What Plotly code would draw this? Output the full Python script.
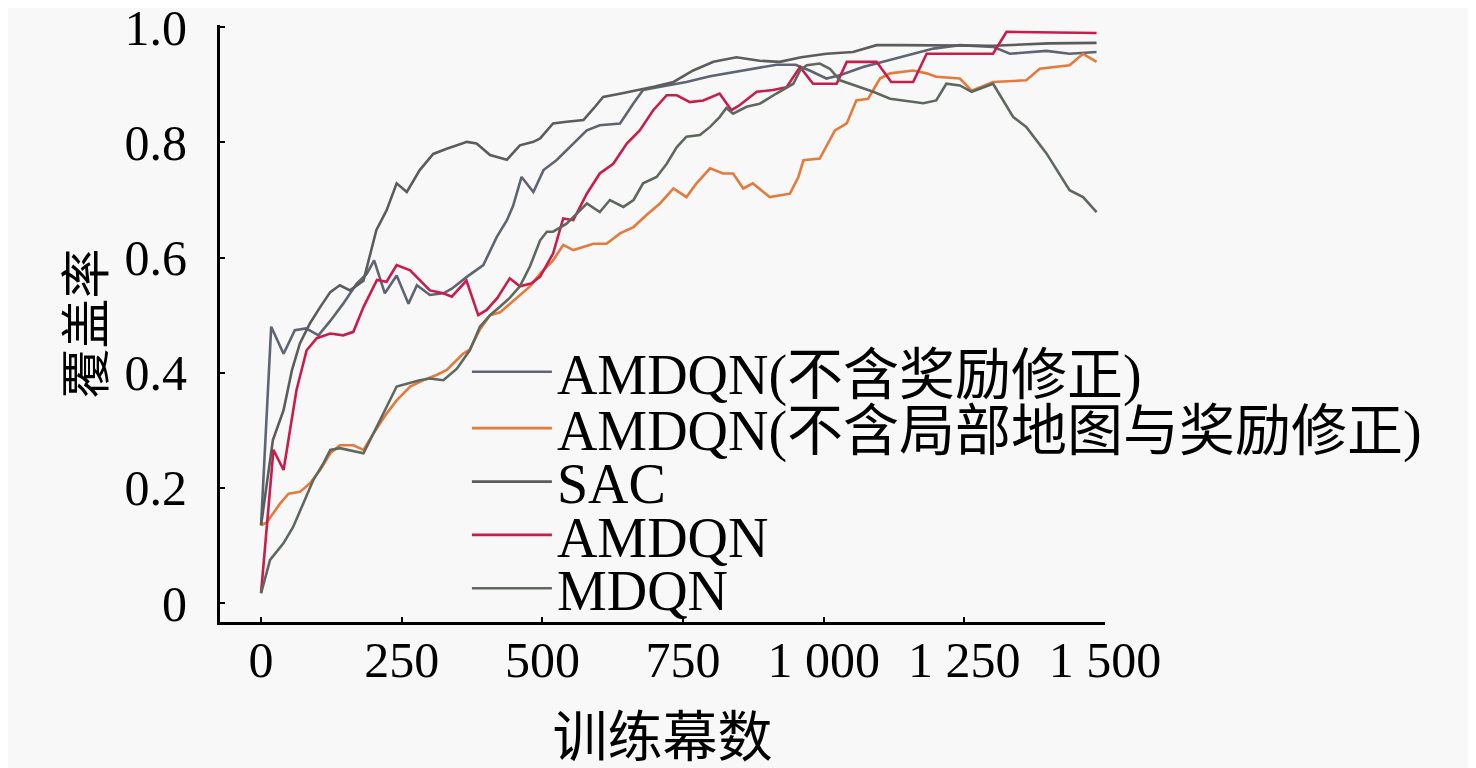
import plotly.graph_objects as go

# episode / coverage values
sac_x = [0, 21, 40, 55, 69, 87, 105, 123, 140, 158, 182, 193, 205, 223, 241, 259, 282, 306, 330, 366, 383,
         407, 437, 460, 484, 496, 519, 543, 573, 591, 608, 640, 673, 700, 733, 768, 804, 845, 886, 922, 960,
         1005, 1052, 1094, 1135, 1242, 1301, 1400, 1485]
sac_y = [0.135, 0.283, 0.335, 0.405, 0.451, 0.486, 0.514, 0.54, 0.552, 0.543, 0.56, 0.6, 0.648, 0.682, 0.729,
         0.714, 0.752, 0.78, 0.789, 0.801, 0.798, 0.778, 0.77, 0.795, 0.801, 0.807, 0.833, 0.836, 0.839, 0.859,
         0.879, 0.885, 0.891, 0.897, 0.905, 0.925, 0.94, 0.948, 0.942, 0.94, 0.948, 0.954, 0.957, 0.969, 0.969,
         0.969, 0.968, 0.972, 0.973]

no_reward_x = [0, 18, 40, 60, 80, 102, 123, 146, 170, 188, 201, 220, 241, 262, 277, 300, 324, 339, 365, 395,
               419, 437, 448, 463, 484, 502, 525, 555, 579, 602, 638, 662, 679, 700, 756, 798, 857, 916, 950,
               975, 1005, 1030, 1070, 1118, 1159, 1195, 1242, 1301, 1331, 1396, 1437, 1485]
no_reward_y = [0.135, 0.48, 0.433, 0.474, 0.477, 0.465, 0.49, 0.52, 0.555, 0.572, 0.595, 0.538, 0.569, 0.52,
               0.552, 0.535, 0.538, 0.546, 0.566, 0.587, 0.636, 0.665, 0.69, 0.74, 0.714, 0.752, 0.769, 0.798,
               0.821, 0.83, 0.833, 0.868, 0.891, 0.895, 0.905, 0.915, 0.925, 0.935, 0.935, 0.925, 0.911, 0.917,
               0.931, 0.943, 0.954, 0.963, 0.969, 0.966, 0.954, 0.959, 0.954, 0.957]

amdqn_x = [0, 22, 40, 49, 63, 81, 99, 123, 146, 164, 182, 206, 223, 241, 265, 300, 324, 339, 365, 386, 401,
           420, 442, 460, 480, 496, 519, 537, 555, 579, 602, 626, 650, 673, 697, 721, 739, 762, 786, 815, 836,
           851, 881, 910, 934, 958, 981, 1023, 1041, 1094, 1120, 1159, 1183, 1301, 1325, 1485]
amdqn_y = [0.017, 0.266, 0.231, 0.283, 0.37, 0.439, 0.46, 0.468, 0.465, 0.471, 0.514, 0.561, 0.558, 0.587,
           0.578, 0.543, 0.538, 0.532, 0.56, 0.5, 0.509, 0.53, 0.564, 0.55, 0.555, 0.567, 0.607, 0.668, 0.665,
           0.711, 0.746, 0.763, 0.798, 0.821, 0.856, 0.882, 0.882, 0.87, 0.873, 0.885, 0.856, 0.865, 0.888,
           0.891, 0.896, 0.931, 0.902, 0.902, 0.94, 0.94, 0.905, 0.905, 0.954, 0.954, 0.992, 0.99]

no_map_x = [0, 10, 34, 49, 69, 87, 105, 123, 140, 164, 182, 200, 223, 241, 265, 288, 312, 330, 359, 371, 389,
            407, 425, 442, 460, 478, 496, 519, 537, 555, 591, 614, 638, 662, 685, 709, 733, 756, 774, 798, 821,
            839, 857, 874, 904, 940, 955, 964, 993, 1020, 1041, 1058, 1079, 1100, 1118, 1159, 1183, 1200, 1242,
            1263, 1301, 1360, 1384, 1437, 1461, 1485]
no_map_y = [0.135, 0.14, 0.173, 0.19, 0.193, 0.208, 0.231, 0.26, 0.274, 0.274, 0.266, 0.295, 0.329, 0.352,
            0.376, 0.387, 0.396, 0.405, 0.433, 0.44, 0.475, 0.5, 0.505, 0.52, 0.535, 0.55, 0.572, 0.595, 0.622,
            0.613, 0.624, 0.624, 0.642, 0.653, 0.674, 0.694, 0.72, 0.705, 0.729, 0.755, 0.746, 0.746, 0.72,
            0.729, 0.705, 0.711, 0.74, 0.769, 0.772, 0.821, 0.833, 0.873, 0.876, 0.911, 0.92, 0.925, 0.92,
            0.914, 0.911, 0.89, 0.905, 0.908, 0.928, 0.934, 0.954, 0.94]

mdqn_x = [0, 16, 40, 57, 75, 93, 111, 123, 140, 160, 182, 200, 217, 241, 259, 282, 300, 324, 348, 371, 389,
          407, 425, 442, 460, 478, 496, 508, 519, 543, 567, 579, 602, 620, 644, 662, 679, 703, 721, 739, 756,
          780, 798, 815, 827, 839, 863, 886, 916, 946, 958, 970, 993, 1011, 1029, 1088, 1118, 1177, 1200, 1218,
          1242, 1263, 1301, 1337, 1360, 1396, 1437, 1461, 1485]
mdqn_y = [0.017, 0.075, 0.104, 0.132, 0.173, 0.214, 0.243, 0.266, 0.269, 0.265, 0.26, 0.295, 0.329, 0.376,
          0.381, 0.387, 0.39, 0.387, 0.407, 0.439, 0.48, 0.5, 0.515, 0.53, 0.55, 0.585, 0.63, 0.645, 0.645,
          0.659, 0.682, 0.694, 0.679, 0.7, 0.688, 0.7, 0.729, 0.74, 0.763, 0.792, 0.81, 0.813, 0.827, 0.844,
          0.86, 0.85, 0.862, 0.867, 0.885, 0.902, 0.925, 0.934, 0.937, 0.928, 0.908, 0.888, 0.876, 0.868,
          0.873, 0.902, 0.899, 0.888, 0.902, 0.844, 0.827, 0.781, 0.717, 0.705, 0.679]

x_tickvals = [0, 250, 500, 750, 1000, 1250, 1500]
x_ticktext = ["0", "250", "500", "750", "1 000", "1 250", "1 500"]
y_tickvals = [0, 0.2, 0.4, 0.6, 0.8, 1.0]
y_ticktext = ["0", "0.2", "0.4", "0.6", "0.8", "1.0"]

SERIF = "Liberation Serif, Noto Sans CJK SC"
BG = "#f8f8f8"

series = [
    ("AMDQN(不含奖励修正)", no_reward_x, no_reward_y, "#5e6474", "legend"),
    ("AMDQN(不含局部地图与奖励修正)", no_map_x, no_map_y, "#e47a3c", "legend2"),
    ("SAC", sac_x, sac_y, "#5c5c5c", "legend3"),
    ("AMDQN", amdqn_x, amdqn_y, "#c81c4a", "legend4"),
    ("MDQN", mdqn_x, mdqn_y, "#5e685f", "legend5"),
]

fig = go.Figure()
for name, xs, ys, col, leg in series:
    fig.add_trace(go.Scatter(x=xs, y=ys, name=name, mode="lines",
                             line=dict(color=col, width=2.6), legend=leg))

# one legend per row so the rows can sit as close as in the picture
row_y = [0.419, 0.3245, 0.235, 0.1457, 0.0564]
legends = {}
for i, yy in enumerate(row_y):
    key = "legend" if i == 0 else f"legend{i + 1}"
    legends[key] = dict(x=0.279, y=yy, xanchor="left", yanchor="middle",
                        bgcolor="rgba(0,0,0,0)", itemwidth=80,
                        font=dict(family=SERIF, size=56, color="black"))

# page body keeps an 8px margin, so the figure is 8px smaller than the window
fig.update_layout(
    width=1468, height=760,
    margin=dict(l=212, r=371, t=17, b=146),
    paper_bgcolor=BG, plot_bgcolor=BG,
    showlegend=True,
    font=dict(family=SERIF, size=50, color="black"),
    xaxis=dict(range=[-73, 1500], tickvals=x_tickvals, ticktext=x_ticktext,
               ticks="inside", ticklen=5, tickwidth=2, tickcolor="black",
               showline=True, linecolor="black", linewidth=3, showgrid=False, zeroline=False,
               tickfont=dict(family=SERIF, size=50), ticklabelstandoff=-8,
               ticklabeloverflow="allow", automargin=False,
               title=dict(text="训练幕数", font=dict(family=SERIF, size=55), standoff=34)),
    yaxis=dict(range=[-0.033, 1.004], tickvals=y_tickvals, ticktext=y_ticktext,
               ticks="inside", ticklen=5, tickwidth=2, tickcolor="black",
               showline=True, linecolor="black", linewidth=3, showgrid=False, zeroline=False,
               tickfont=dict(family=SERIF, size=50), ticklabelstandoff=20,
               ticklabeloverflow="allow", automargin=False,
               title=dict(text="覆盖率", font=dict(family=SERIF, size=50), standoff=5)),
    **legends,
)

fig.write_html("out.html")
